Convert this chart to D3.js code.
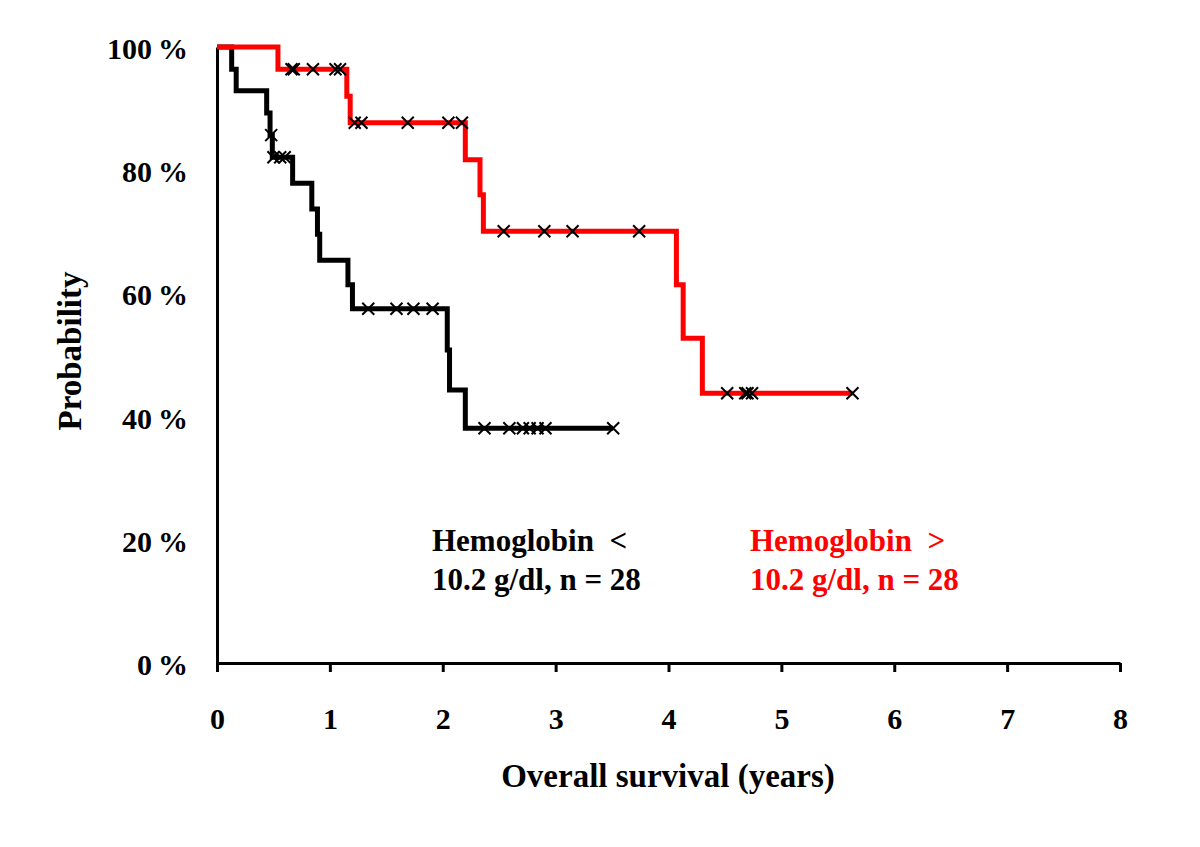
<!DOCTYPE html>
<html>
<head>
<meta charset="utf-8">
<script src="https://cdn.jsdelivr.net/npm/d3@7"></script>
<style>
  html, body { margin: 0; padding: 0; background: #fff; }
  svg { display: block; }
  text { font-family: "Liberation Serif", "Times New Roman", serif; font-weight: bold; }
</style>
</head>
<body>
<svg id="chart" width="1200" height="847"></svg>
<script>
// ---- data ----
const xTicks = [0, 1, 2, 3, 4, 5, 6, 7, 8];
const yTicks = [0, 20, 40, 60, 80, 100];

// Hemoglobin < 10.2 g/dl (black)
const lowTimes = [0, 0.13, 0.17, 0.44, 0.47, 0.49, 0.67, 0.84, 0.89, 0.91, 1.16, 1.20, 2.04, 2.06, 2.20];
const lowSurv  = [100, 96.4, 92.9, 89.3, 85.7, 82.1, 77.9, 73.7, 69.6, 65.4, 61.4, 57.5, 50.8, 44.3, 38.1];
const lowEnd = 3.51;
const lowCensorTime = [0.48, 0.50, 0.56, 0.60, 1.34, 1.59, 1.74, 1.91, 2.37, 2.59, 2.71, 2.77, 2.84, 2.91, 3.51];
const lowCensorSurv = [85.7, 82.1, 82.1, 82.1, 57.5, 57.5, 57.5, 57.5, 38.1, 38.1, 38.1, 38.1, 38.1, 38.1, 38.1];

// Hemoglobin > 10.2 g/dl (red)
const highTimes = [0, 0.54, 1.15, 1.18, 2.20, 2.33, 2.36, 4.07, 4.13, 4.30];
const highSurv  = [100, 96.4, 92.0, 87.7, 81.7, 76.0, 70.1, 61.4, 52.7, 43.8];
const highEnd = 5.63;
const highCensorTime = [0.66, 0.68, 0.85, 1.05, 1.09, 1.22, 1.28, 1.69, 2.05, 2.17, 2.54, 2.90, 3.15, 3.74, 4.52, 4.68, 4.70, 4.74, 5.63];
const highCensorSurv = [96.4, 96.4, 96.4, 96.4, 96.4, 87.7, 87.7, 87.7, 87.7, 87.7, 70.1, 70.1, 70.1, 70.1, 43.8, 43.8, 43.8, 43.8, 43.8];

const lowLabel = ["Hemoglobin  <", "10.2 g/dl, n = 28"];
const highLabel = ["Hemoglobin  >", "10.2 g/dl, n = 28"];
const xTitle = "Overall survival (years)";
const yTitle = "Probability";

// ---- drawing ----
const svg = d3.select("#chart");
const x = d3.scaleLinear().domain([0, 8]).range([217, 1120]);
const y = d3.scaleLinear().domain([0, 100]).range([663, 47]);

// axes
const gx = svg.append("g").attr("transform", `translate(0,${y(0)})`)
  .call(d3.axisBottom(x).tickValues(xTicks).tickSize(9).tickSizeOuter(0).tickPadding(36).tickFormat(d3.format("d")));
gx.select(".domain").attr("stroke", "#000").attr("stroke-width", 3);
gx.selectAll(".tick line").attr("stroke", "#000").attr("stroke-width", 3);
gx.selectAll(".tick text").attr("font-size", 30).attr("fill", "#000")
  .style("font-family", '"Liberation Serif", serif').style("font-weight", "bold");

const gy = svg.append("g").attr("transform", `translate(${x(0)},0)`)
  .call(d3.axisLeft(y).tickValues(yTicks).tickSize(0).tickSizeOuter(0).tickPadding(29).tickFormat(d => d + "\u2009%"));
gy.select(".domain").attr("stroke", "#000").attr("stroke-width", 3);
gy.selectAll(".tick text").attr("font-size", 30).attr("fill", "#000").attr("dy", "0.38em")
  .style("font-family", '"Liberation Serif", serif').style("font-weight", "bold");

// step lines
const line = d3.line().x(d => x(d[0])).y(d => y(d[1])).curve(d3.curveStepAfter);
function pts(times, surv, end) {
  const p = times.map((t, i) => [t, surv[i]]);
  p.push([end, surv[surv.length - 1]]);
  return p;
}
svg.append("path").attr("d", line(pts(lowTimes, lowSurv, lowEnd)))
  .attr("fill", "none").attr("stroke", "#000").attr("stroke-width", 5).attr("stroke-linejoin", "miter");
svg.append("path").attr("d", line(pts(highTimes, highSurv, highEnd)))
  .attr("fill", "none").attr("stroke", "#ff0000").attr("stroke-width", 5).attr("stroke-linejoin", "miter");

// censor marks
const cross = "M-6,-6L6,6M-6,6L6,-6";
function censors(times, surv) {
  svg.append("g").selectAll("path").data(times.map((t, i) => [t, surv[i]])).join("path")
    .attr("d", cross)
    .attr("transform", d => `translate(${x(d[0])},${y(d[1])})`)
    .attr("fill", "none").attr("stroke", "#000").attr("stroke-width", 2);
}
censors(lowCensorTime, lowCensorSurv);
censors(highCensorTime, highCensorSurv);

// labels
svg.append("text").attr("x", 668).attr("y", 787).attr("text-anchor", "middle")
  .attr("font-size", 33).attr("fill", "#000").text(xTitle);
svg.append("text").attr("transform", "translate(81,351) rotate(-90)").attr("text-anchor", "middle")
  .attr("font-size", 33).attr("fill", "#000").text(yTitle);

function legend(lines, x0, color) {
  lines.forEach((s, i) => {
    svg.append("text").attr("x", x0).attr("y", 551 + i * 39).attr("font-size", 31)
      .attr("fill", color).style("white-space", "pre").attr("xml:space", "preserve").text(s);
  });
}
legend(lowLabel, 432, "#000");
legend(highLabel, 750, "#ff0000");
</script>
</body>
</html>
